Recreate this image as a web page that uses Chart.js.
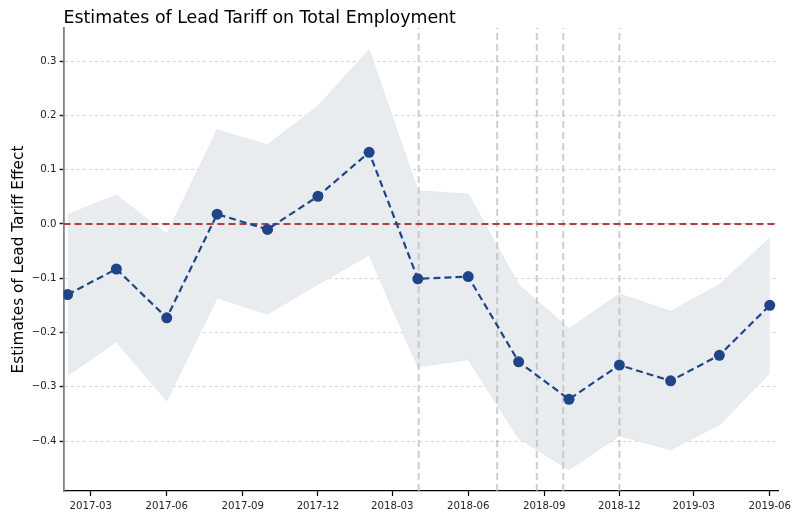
<!DOCTYPE html>
<html>
<head>
<meta charset="utf-8">
<script src="https://cdn.jsdelivr.net/npm/chart.js@4.4.1/dist/chart.umd.min.js"></script>
<style>
  body { margin: 0; background: #fff; }
  canvas { display: block; }
</style>
</head>
<body>
<canvas id="tariffChart" width="797" height="515"></canvas>
<script>
const chartTitle = 'Estimates of Lead Tariff on Total Employment';
const yTitle = 'Estimates of Lead Tariff Effect';

// months of each estimate
const months = ['2017-02', '2017-04', '2017-06', '2017-08', '2017-10', '2017-12',
    '2018-02', '2018-04', '2018-06', '2018-08', '2018-10', '2018-12',
    '2019-02', '2019-04', '2019-06'];
const estimates = [-0.130, -0.083, -0.173, 0.018, -0.010, 0.051, 0.132,
    -0.101, -0.097, -0.254, -0.323, -0.260, -0.289, -0.242, -0.150];
const upperCI = [0.017, 0.053, -0.019, 0.173, 0.146, 0.217, 0.321,
    0.061, 0.055, -0.112, -0.193, -0.129, -0.161, -0.112, -0.026];
const lowerCI = [-0.279, -0.217, -0.326, -0.136, -0.166, -0.111, -0.057,
    -0.263, -0.250, -0.395, -0.453, -0.390, -0.416, -0.370, -0.275];

// tariff event dates (vertical lines)
const eventDates = ['2018-04-02', '2018-07-06', '2018-08-23', '2018-09-24', '2018-12-01'];

const xTickLabels = ['2017-03', '2017-06', '2017-09', '2017-12', '2018-03', '2018-06',
    '2018-09', '2018-12', '2019-03', '2019-06'];
const yTickValues = [-0.4, -0.3, -0.2, -0.1, 0.0, 0.1, 0.2, 0.3];

const xMin = Date.parse('2017-01-27');
const xMax = Date.parse('2019-06-11');
const yMin = -0.492;
const yMax = 0.361;

const toTime = m => Date.parse(m + '-01');
const series = vals => months.map((m, i) => ({ x: toTime(m), y: vals[i] }));

const eventSets = eventDates.map(d => ({
    data: [{ x: Date.parse(d), y: yMin }, { x: Date.parse(d), y: yMax }],
    borderColor: 'rgba(185,185,185,0.7)',
    borderWidth: 2,
    borderDash: [7, 4],
    pointRadius: 0,
    fill: false,
    order: 3
}));

const titlePlugin = {
    id: 'leftTitle',
    afterDraw(chart) {
        const ctx = chart.ctx;
        ctx.save();
        ctx.font = '17.4px "DejaVu Sans"';
        ctx.fillStyle = '#000';
        ctx.textBaseline = 'alphabetic';
        ctx.fillText(chartTitle, chart.chartArea.left, 23);
        ctx.restore();
    }
};

const ctx = document.getElementById('tariffChart').getContext('2d');
const myChart = new Chart(ctx, {
    type: 'line',
    data: {
        datasets: [
            {
                data: series(estimates),
                borderColor: '#1f4487',
                backgroundColor: '#1f4487',
                borderWidth: 2.2,
                borderDash: [7, 4],
                pointRadius: 5.5,
                pointBorderWidth: 0,
                pointBackgroundColor: '#1f4487',
                fill: false,
                order: 0
            },
            {
                data: [{ x: xMin, y: 0 }, { x: xMax, y: 0 }],
                borderColor: '#b23b3b',
                borderWidth: 2,
                borderDash: [7, 4],
                pointRadius: 0,
                fill: false,
                order: 1
            },
            ...eventSets,
            {
                data: series(upperCI),
                borderColor: '#dfe3e8',
                borderWidth: 0.8,
                pointRadius: 0,
                fill: false,
                order: 5
            },
            {
                data: series(lowerCI),
                borderColor: '#dfe3e8',
                borderWidth: 0.8,
                backgroundColor: '#e9ecef',
                pointRadius: 0,
                fill: '-1',
                order: 5
            }
        ]
    },
    options: {
        responsive: false,
        animation: false,
        layout: { padding: { top: 28, right: 19, left: 0, bottom: 0 } },
        plugins: {
            legend: { display: false },
            tooltip: { enabled: false },
            title: { display: false }
        },
        scales: {
            x: {
                type: 'linear',
                min: xMin,
                max: xMax,
                afterBuildTicks: s => { s.ticks = xTickLabels.map(l => ({ value: toTime(l) })); },
                afterFit: s => { s.height = 24; },
                ticks: {
                    autoSkip: false,
                    maxRotation: 0,
                    padding: 4,
                    color: '#222',
                    font: { family: 'DejaVu Sans', size: 10.2 },
                    callback: v => new Date(v).toISOString().slice(0, 7)
                },
                grid: {
                    drawOnChartArea: false,
                    drawTicks: true,
                    tickLength: 5,
                    tickColor: '#000',
                    tickWidth: 1.2
                },
                border: { display: true, color: '#000', width: 1.2 }
            },
            y: {
                type: 'linear',
                min: yMin,
                max: yMax,
                afterBuildTicks: s => { s.ticks = yTickValues.map(v => ({ value: v })); },
                afterFit: s => { s.width = 63.5; },
                ticks: {
                    padding: 3,
                    color: '#222',
                    font: { family: 'DejaVu Sans', size: 10.2 },
                    callback: v => v.toFixed(1).replace('-', '\u2212')
                },
                grid: {
                    color: 'rgba(200,200,200,0.8)',
                    lineWidth: 1,
                    drawTicks: true,
                    tickLength: 4,
                    tickColor: '#222',
                    tickWidth: 1.5,
                    tickBorderDash: []
                },
                border: { display: true, color: '#808080', width: 1.8, dash: [3, 3] },
                title: {
                    display: true,
                    text: yTitle,
                    color: '#000',
                    font: { family: 'DejaVu Sans', size: 15.3 },
                    padding: { top: 10, bottom: 0 }
                }
            }
        }
    },
    plugins: [titlePlugin]
});
</script>
</body>
</html>
